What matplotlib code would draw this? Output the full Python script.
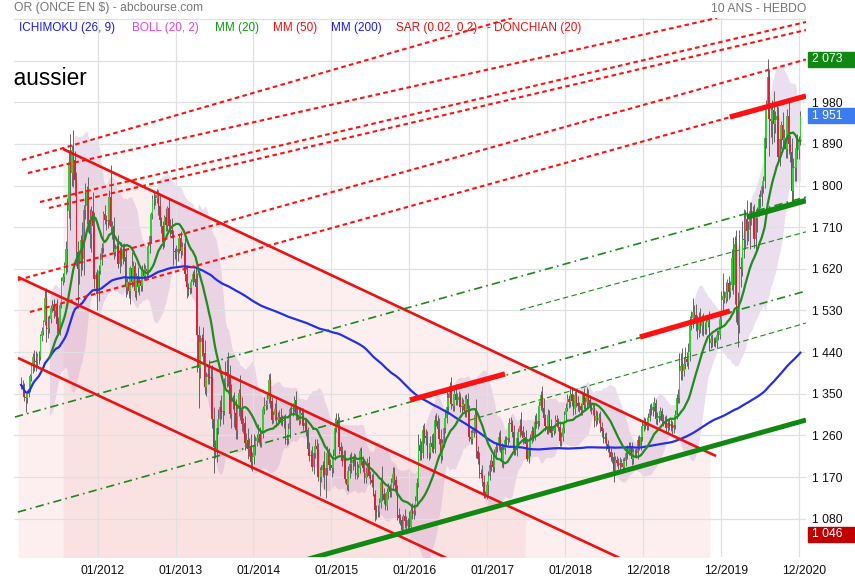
import numpy as np
import pandas as pd
import matplotlib
matplotlib.use('Agg')
import matplotlib.pyplot as plt
from matplotlib.patches import Rectangle
import matplotlib.transforms as mtransforms

plt.rcParams['font.family'] = ['Liberation Sans', 'DejaVu Sans']

# ---------------- weekly gold closes (USD) ----------------
c2011 = [1369, 1361, 1343, 1340, 1350, 1361, 1388, 1409, 1429, 1420, 1419, 1429,
         1430, 1474, 1486, 1504, 1556, 1491, 1493, 1511, 1536, 1542, 1529, 1539, 1501,
         1486, 1542, 1594, 1602, 1628, 1663, 1744, 1852, 1828, 1876, 1856, 1813, 1656, 1620,
         1635, 1682, 1642, 1747, 1756, 1788, 1725, 1696, 1746, 1712, 1598, 1606, 1565]
c2012 = [1616, 1640, 1665, 1738, 1725, 1723, 1725, 1775, 1710, 1713, 1656, 1662, 1669,
         1631, 1659, 1642, 1663, 1645, 1580, 1592, 1573, 1621, 1591, 1627, 1572, 1604,
         1581, 1592, 1582, 1618, 1605, 1620, 1616, 1670, 1691, 1738, 1770, 1772, 1773,
         1780, 1756, 1725, 1713, 1678, 1731, 1714, 1751, 1713, 1705, 1696, 1658, 1657]
c2013 = [1656, 1662, 1687, 1658, 1667, 1667, 1609, 1581, 1576, 1578, 1592, 1608, 1598,
         1580, 1477, 1405, 1462, 1470, 1437, 1365, 1387, 1392, 1383, 1387, 1296, 1234,
         1223, 1277, 1296, 1322, 1310, 1313, 1373, 1396, 1395, 1387, 1307, 1332, 1338,
         1309, 1272, 1316, 1351, 1314, 1285, 1287, 1243, 1250, 1230, 1234, 1203, 1213]
c2014 = [1237, 1248, 1254, 1264, 1244, 1262, 1318, 1324, 1326, 1339, 1379, 1334, 1294,
         1303, 1318, 1293, 1300, 1299, 1290, 1293, 1292, 1250, 1252, 1274, 1316, 1316,
         1320, 1337, 1309, 1303, 1294, 1309, 1304, 1280, 1287, 1268, 1230, 1216, 1218,
         1192, 1222, 1238, 1231, 1171, 1169, 1186, 1197, 1175, 1190, 1222, 1195, 1195]
c2015 = [1189, 1216, 1277, 1293, 1279, 1234, 1227, 1204, 1213, 1165, 1152, 1183, 1199,
         1201, 1206, 1204, 1175, 1179, 1189, 1226, 1205, 1190, 1168, 1179, 1201, 1173,
         1164, 1158, 1133, 1099, 1094, 1094, 1113, 1159, 1134, 1121, 1108, 1137, 1145,
         1137, 1156, 1177, 1163, 1142, 1088, 1081, 1076, 1056, 1086, 1075, 1065, 1076]
c2016 = [1061, 1098, 1089, 1097, 1118, 1158, 1239, 1227, 1222, 1271, 1259, 1255, 1221,
         1221, 1243, 1235, 1231, 1293, 1290, 1273, 1253, 1216, 1243, 1275, 1298, 1322,
         1340, 1366, 1328, 1323, 1350, 1336, 1336, 1342, 1321, 1324, 1328, 1310, 1339, 1316,
         1257, 1252, 1266, 1275, 1304, 1226, 1208, 1178, 1177, 1160, 1134, 1132, 1152]
c2017 = [1173, 1197, 1205, 1191, 1220, 1234, 1236, 1257, 1234, 1202, 1229, 1249, 1249,
         1254, 1287, 1284, 1268, 1228, 1228, 1254, 1267, 1280, 1270, 1254, 1256, 1242,
         1210, 1228, 1254, 1269, 1258, 1288, 1285, 1291, 1324, 1347, 1320, 1297, 1280,
         1274, 1304, 1280, 1266, 1269, 1275, 1293, 1288, 1279, 1248, 1257, 1276, 1303]
c2018 = [1320, 1338, 1332, 1350, 1334, 1316, 1347, 1330, 1323, 1323, 1314, 1347, 1325,
         1332, 1345, 1336, 1323, 1314, 1320, 1291, 1302, 1294, 1298, 1278, 1269, 1253,
         1256, 1241, 1231, 1223, 1214, 1213, 1184, 1206, 1201, 1197, 1201, 1201, 1192,
         1204, 1222, 1227, 1235, 1233, 1209, 1223, 1223, 1222, 1249, 1238, 1256, 1280]
c2019 = [1285, 1288, 1281, 1298, 1317, 1314, 1322, 1329, 1295, 1298, 1302, 1312, 1292,
         1291, 1291, 1276, 1286, 1280, 1284, 1276, 1283, 1305, 1340, 1341, 1399, 1409,
         1399, 1415, 1426, 1419, 1440, 1497, 1513, 1526, 1520, 1506, 1488, 1506, 1497,
         1505, 1489, 1490, 1505, 1509, 1459, 1468, 1463, 1463, 1460, 1476, 1478, 1511]
c2020 = [1552, 1562, 1557, 1571, 1589, 1570, 1584, 1643, 1585, 1674, 1530, 1498, 1625,
         1620, 1684, 1683, 1728, 1701, 1703, 1744, 1735, 1730, 1685, 1730, 1744, 1771,
         1775, 1799, 1810, 1902, 1975, 2035, 1944, 1940, 1964, 1934, 1941, 1950, 1862,
         1900, 1930, 1899, 1902, 1879, 1951, 1889, 1872, 1788, 1839, 1839, 1881, 1877]
c2021 = [1898, 1951]
first_open = 1372

# upper / lower wick lengths beyond the candle body
u2011 = [15, 10, 12, 8, 8, 12, 5, 6, 10, 16, 22, 8, 12, 6, 8, 6, 18, 22, 24, 10, 6, 10, 12, 6, 16,
         14, 4, 8, 8, 6, 18, 30, 25, 60, 12, 44, 18, 17, 25, 18, 12, 40, 10, 50, 12, 30, 25, 10, 40, 30, 8, 14]
d2011 = [8, 12, 8, 30, 10, 6, 8, 10, 15, 20, 20, 8, 15, 8, 10, 10, 6, 30, 20, 12, 8, 10, 15, 10, 20,
         8, 8, 6, 10, 10, 20, 50, 15, 124, 30, 60, 35, 30, 85, 32, 30, 25, 35, 20, 40, 25, 30, 40, 35, 20, 20, 35]
u2012 = [12, 15, 10, 8, 20, 12, 8, 15, 70, 10, 20, 12, 8, 25, 8, 20, 8, 12, 15, 8, 20, 6, 35, 10, 8, 6,
         20, 12, 8, 10, 15, 8, 12, 5, 10, 5, 10, 15, 8, 12, 10, 25, 8, 10, 6, 20, 5, 20, 15, 25, 8, 6]
d2012 = [15, 8, 12, 10, 8, 20, 15, 10, 12, 25, 15, 8, 10, 10, 20, 15, 12, 8, 20, 15, 15, 30, 10, 8, 12, 20,
         12, 18, 10, 10, 8, 10, 12, 10, 15, 15, 10, 20, 15, 10, 20, 12, 15, 15, 10, 12, 12, 8, 15, 10, 30, 15]
u2013 = [15, 8, 6, 15, 12, 8, 20, 20, 8, 10, 6, 8, 12, 25, 30, 20, 15, 10, 25, 30, 10, 20, 30, 20, 25, 25,
         15, 15, 20, 14, 25, 10, 10, 25, 30, 45, 25, 40, 10, 15, 30, 8, 10, 40, 30, 10, 15, 15, 25, 20, 30, 10]
d2013 = [30, 20, 8, 15, 8, 20, 15, 25, 15, 10, 10, 8, 6, 25, 80, 85, 20, 30, 20, 15, 20, 15, 12, 15, 20, 55,
         12, 20, 15, 15, 15, 25, 10, 15, 30, 20, 10, 30, 15, 30, 20, 20, 15, 20, 15, 20, 15, 10, 20, 15, 15, 20]
u2014 = [25, 10, 8, 20, 15, 8, 5, 20, 10, 15, 13, 15, 10, 10, 12, 20, 10, 15, 20, 12, 12, 15, 10, 12, 5, 15,
         10, 8, 20, 15, 15, 12, 10, 15, 8, 10, 10, 15, 10, 20, 10, 15, 15, 12, 20, 10, 8, 30, 15, 15, 10, 15]
d2014 = [15, 20, 10, 8, 10, 10, 8, 12, 10, 8, 8, 15, 10, 8, 10, 15, 10, 10, 8, 10, 15, 8, 10, 10, 20, 10,
         15, 10, 15, 10, 12, 10, 12, 8, 10, 10, 10, 12, 10, 10, 15, 10, 12, 10, 40, 10, 15, 30, 50, 15, 10, 10]
u2015 = [20, 15, 20, 15, 15, 20, 12, 10, 15, 15, 8, 10, 20, 22, 10, 15, 15, 25, 10, 7, 8, 10, 15, 12, 10, 15,
         10, 12, 20, 10, 10, 15, 12, 10, 35, 12, 15, 10, 12, 10, 12, 14, 15, 10, 10, 15, 10, 10, 5, 15, 10, 6]
d2015 = [20, 10, 10, 10, 25, 15, 10, 10, 10, 8, 10, 12, 15, 20, 15, 10, 10, 10, 10, 10, 8, 10, 10, 10, 10, 5,
         10, 10, 5, 25, 15, 10, 10, 10, 15, 10, 10, 10, 15, 10, 10, 12, 10, 10, 10, 10, 10, 8, 10, 15, 16, 10]
u2016 = [20, 10, 15, 15, 10, 10, 25, 15, 20, 12, 15, 15, 15, 10, 15, 20, 30, 10, 15, 15, 25, 20, 10, 12, 20, 40,
         12, 10, 20, 15, 10, 20, 15, 15, 10, 20, 10, 20, 10, 12, 10, 15, 8, 15, 10, 35, 10, 15, 10, 20, 15, 5, 10]
d2016 = [5, 10, 10, 10, 10, 10, 10, 20, 15, 10, 15, 15, 10, 15, 10, 10, 10, 10, 10, 15, 12, 15, 10, 8, 10, 12,
         15, 10, 10, 10, 10, 10, 10, 10, 10, 10, 10, 10, 10, 10, 10, 10, 10, 10, 10, 15, 10, 10, 10, 10, 10, 8, 10]
u2017 = [10, 10, 15, 15, 10, 12, 8, 10, 15, 10, 12, 10, 9, 20, 10, 12, 10, 15, 10, 12, 10, 15, 30, 10, 11, 15,
         10, 9, 10, 12, 10, 15, 20, 15, 10, 10, 20, 20, 10, 10, 12, 10, 15, 10, 8, 10, 10, 10, 12, 10, 10, 9]
d2017 = [20, 10, 15, 10, 10, 12, 10, 8, 10, 10, 12, 10, 10, 10, 8, 10, 12, 10, 10, 12, 10, 10, 10, 12, 10, 10,
         5, 10, 12, 10, 10, 8, 10, 12, 10, 10, 10, 12, 10, 10, 10, 12, 10, 10, 8, 10, 10, 10, 12, 10, 10, 10]
u2018 = [10, 12, 10, 15, 15, 15, 10, 12, 15, 10, 8, 10, 15, 10, 20, 15, 10, 10, 8, 10, 12, 10, 10, 15, 10, 8,
         10, 12, 10, 8, 10, 10, 12, 10, 10, 10, 12, 8, 10, 10, 10, 12, 10, 10, 12, 10, 8, 10, 10, 12, 10, 10]
d2018 = [10, 8, 12, 10, 10, 12, 10, 8, 10, 12, 10, 10, 8, 10, 12, 10, 10, 8, 10, 12, 10, 10, 8, 10, 12, 10,
         10, 12, 8, 10, 10, 12, 25, 10, 8, 10, 12, 10, 10, 8, 10, 12, 10, 10, 12, 10, 8, 10, 12, 10, 10, 8]
u2019 = [15, 10, 12, 10, 10, 12, 10, 15, 10, 12, 10, 10, 8, 15, 10, 12, 10, 10, 12, 8, 10, 10, 10, 20, 40, 30,
         40, 15, 25, 15, 20, 20, 15, 30, 15, 25, 15, 20, 30, 15, 20, 15, 10, 10, 20, 10, 12, 10, 10, 12, 10, 10]
d2019 = [10, 12, 10, 10, 8, 10, 12, 10, 10, 12, 10, 8, 10, 10, 12, 10, 10, 8, 10, 12, 10, 10, 10, 10, 10, 20,
         20, 10, 12, 10, 15, 20, 10, 20, 15, 20, 20, 15, 15, 20, 15, 10, 10, 10, 15, 10, 12, 10, 10, 12, 10, 10]
u2020 = [20, 50, 10, 20, 10, 15, 10, 20, 46, 18, 30, 40, 78, 20, 40, 65, 20, 40, 20, 20, 20, 20, 30, 20, 10, 10,
         15, 10, 10, 15, 10, 38, 15, 35, 20, 40, 20, 30, 20, 20, 10, 30, 20, 20, 15, 30, 20, 30, 20, 30, 20, 30]
d2020 = [15, 20, 10, 10, 20, 15, 10, 10, 20, 40, 26, 47, 16, 40, 15, 40, 20, 30, 20, 40, 20, 40, 20, 30, 30, 10,
         20, 20, 15, 15, 20, 30, 80, 35, 50, 40, 20, 30, 15, 20, 20, 20, 20, 20, 20, 20, 20, 30, 30, 30, 30, 20]
u2021 = [10, 10]
d2021 = [20, 10]

# ---------------- drawn objects (date as decimal year, price) ----------------
chan1_x = [2011.555, 2019.937]; chan1_y = [1879.0, 1215.4]
chan2_x = [2010.977, 2018.961]; chan2_y = [1602.3, 974.4]
chan3_x = [2010.977, 2016.779]; chan3_y = [1427.3, 971.1]
zoneA_x = [2011.555, 2019.86]
zoneB_x = [2010.977, 2017.486]
gsup_x = [2014.340, 2021.092]; gsup_y = [975.5, 1293.2]
gseg_x = [2020.333, 2021.092]; gseg_y = [1732.0, 1767.7]
dda_x = [2010.938, 2021.092]; dda_y = [1299.7, 1775.3]
ddb_x = [2010.977, 2021.092]; ddb_y = [1094.3, 1572.1]
thin1_x = [2016.779, 2021.092]; thin1_y = [1293.2, 1502.9]
thin2_x = [2017.421, 2021.092]; thin2_y = [1531.0, 1700.0]
rseg_x = [[2016.009, 2017.228], [2018.961, 2020.116], [2020.116, 2021.092]]
rseg_y = [[1336.5, 1392.7], [1472.6, 1528.9], [1948.2, 1993.6]]
rdot_x = [[2011.028, 2017.315], [2011.105, 2019.950], [2011.259, 2021.092],
          [2011.375, 2021.092], [2010.977, 2021.092], [2011.131, 2021.092]]
rdot_y = [[1855.3, 2162.2], [1827.2, 2162.2], [1764.5, 2153.6],
          [1751.5, 2136.3], [1595.8, 2072.7], [1526.6, 1993.6]]

year_ticks = [2012, 2013, 2014, 2015, 2016, 2017, 2018, 2019, 2020, 2021]
year_labels = ['01/2012', '01/2013', '01/2014', '01/2015', '01/2016', '01/2017',
               '01/2018', '12/2018', '12/2019', '12/2020']
price_ticks = [1080, 1170, 1260, 1350, 1440, 1530, 1620, 1710, 1800, 1890, 1980]
grid_prices = [1080, 1170, 1260, 1350, 1440, 1530, 1620, 1710, 1800, 1890, 1980, 2070, 2160]

legend_items = [('ICHIMOKU (26, 9)', '#1a1aee', 19), ('BOLL (20, 2)', '#dd44dd', 131.5),
                ('MM (20)', '#119911', 215), ('MM (50)', '#ee1111', 273),
                ('MM (200)', '#1a1aff', 331), ('SAR (0.02, 0.2)', '#dd1111', 396),
                ('- DONCHIAN (20)', '#ee1111', 487)]

# ---------------- assemble ----------------
closes = np.array(c2011 + c2012 + c2013 + c2014 + c2015 + c2016 + c2017 + c2018 + c2019 + c2020 + c2021, float)
upw = np.array(u2011 + u2012 + u2013 + u2014 + u2015 + u2016 + u2017 + u2018 + u2019 + u2020 + u2021, float)
dnw = np.array(d2011 + d2012 + d2013 + d2014 + d2015 + d2016 + d2017 + d2018 + d2019 + d2020 + d2021, float)
dates = pd.date_range('2011-01-07', periods=len(closes), freq='W-FRI')
x = np.asarray(dates.year + (dates.dayofyear - 1) / 365.25, float)
opens = np.r_[first_open, closes[:-1]]
btop = np.maximum(opens, closes)
bbot = np.minimum(opens, closes)
highs = btop + upw
lows = bbot - dnw

W, H = 855, 580
fig = plt.figure(figsize=(W / 100, H / 100), dpi=100)
AX_L, AX_R, AX_T, AX_B = 14, 806, 18, 557
ax = fig.add_axes([AX_L / W, 1 - AX_B / H, (AX_R - AX_L) / W, (AX_B - AX_T) / H])
XMIN, XMAX = 2010.926, 2021.092
YMIN, YMAX = 997.1, 2162.2
ax.set_xlim(XMIN, XMAX)
ax.set_ylim(YMIN, YMAX)
for s in ax.spines.values():
    s.set_visible(False)

# grid
for yt in grid_prices:
    ax.axhline(yt, color='#e0e0e0', lw=0.9, zorder=2)
for xt in year_ticks:
    ax.axvline(xt, color='#e0e0e0', lw=0.9, zorder=2)


def line_at(xs, lx, ly):
    xs = np.asarray(xs, float)
    return ly[0] + (xs - lx[0]) * (ly[1] - ly[0]) / (lx[1] - lx[0])


# zones
za = np.linspace(zoneA_x[0], zoneA_x[1], 50)
ax.fill_between(za, line_at(za, chan1_x, chan1_y), YMIN - 50, color='#f29a9a', alpha=0.15, lw=0, zorder=1)
zb = np.linspace(zoneB_x[0], zoneB_x[1], 50)
ax.fill_between(zb, line_at(zb, chan2_x, chan2_y), YMIN - 50, color='#f29a9a', alpha=0.15, lw=0, zorder=1)

# Bollinger
cs = pd.Series(closes)
mid = cs.rolling(20).mean()
sd = cs.rolling(20).std(ddof=0)
ax.fill_between(x, mid + 2 * sd, mid - 2 * sd, color='#c59ccd', alpha=0.33, lw=0, zorder=1.5)

# candles
wk = 7 / 365.25
ax.vlines(x, lows, highs, color='#666666', lw=0.7, zorder=3)
cols = np.where(closes >= opens, '#2fcf2f', '#dd2238')
ax.bar(x, np.maximum(btop - bbot, 0.8), bottom=bbot, width=wk * 0.95, color=cols, lw=0, zorder=3.2)

# moving averages
ma20 = cs.rolling(20).mean()
ma200 = cs.rolling(200, min_periods=1).mean()
ax.plot(x, ma200, color='#2230ee', lw=1.6, zorder=4)
ax.plot(x, ma20, color='#1e8c1e', lw=1.6, zorder=4)

# drawn lines
for lx, ly in [(chan1_x, chan1_y), (chan2_x, chan2_y), (chan3_x, chan3_y)]:
    ax.plot(lx, ly, color='#ee1111', lw=1.9, zorder=5, solid_capstyle='butt')
ax.plot(gsup_x, gsup_y, color='#118811', lw=3.6, zorder=5, solid_capstyle='butt')
ax.plot(gseg_x, gseg_y, color='#118811', lw=4.0, zorder=5, solid_capstyle='butt')
ax.plot(dda_x, dda_y, color='#1a8a1a', lw=1.2, ls=(0, (5, 2.5, 1, 2.5)), zorder=5)
ax.plot(ddb_x, ddb_y, color='#1a8a1a', lw=1.2, ls=(0, (5, 2.5, 1, 2.5)), zorder=5)
ax.plot(thin1_x, thin1_y, color='#1a8a1a', lw=0.8, ls=(0, (5, 3)), zorder=5)
ax.plot(thin2_x, thin2_y, color='#1a8a1a', lw=0.8, ls=(0, (5, 3)), zorder=5)
for lx, ly in zip(rseg_x, rseg_y):
    ax.plot(lx, ly, color='#ff1111', lw=3.8, zorder=6, solid_capstyle='butt')
for lx, ly in zip(rdot_x, rdot_y):
    ax.plot(lx, ly, color='#ff1111', lw=1.5, ls=(0, (2.2, 1.6)), zorder=6)

# axes ticks
ax.set_xticks(year_ticks)
ax.set_xticklabels(year_labels, fontsize=8.7, color='#111111')
ax.tick_params(axis='x', length=0, pad=6)
off = mtransforms.ScaledTranslation(5 / 100, 0, fig.dpi_scale_trans)
for lab in ax.get_xticklabels():
    lab.set_transform(lab.get_transform() + off)
ax.yaxis.tick_right()
ax.set_yticks(price_ticks)
ax.set_yticklabels([f'{v:,}'.replace(',', ' ') for v in price_ticks], fontsize=8.7, color='#111111')
ax.tick_params(axis='y', length=0, pad=4.3)


# value boxes
def value_box(val, color):
    ypix = ax.transData.transform((XMIN, val))[1]
    fig.patches.append(Rectangle((808 / W, (ypix - 7.5) / H), 47 / W, 15 / H,
                                 transform=fig.transFigure, color=color, zorder=5))
    fig.text(812 / W, ypix / H, f'{int(round(val)):,}'.replace(',', ' '), color='white',
             fontsize=8.7, va='center', ha='left', zorder=6)


value_box(highs.max(), '#118811')
value_box(closes[-1], '#3d7bf0')
value_box(lows.min(), '#c00000')

# texts
fig.text(14 / W, 1 - 8.5 / H, 'OR (ONCE EN $) - abcbourse.com', color='#777777', fontsize=8.7, va='center')
fig.text(806 / W, 1 - 8.5 / H, '10 ANS - HEBDO', color='#777777', fontsize=8.7, va='center', ha='right')
for txt, col, px in legend_items:
    fig.text(px / W, 1 - 28.5 / H, txt, color=col, fontsize=8.5, va='center')
t = fig.text(87 / W, 1 - 85 / H, 'haussier', color='black', fontsize=16.3, ha='right', va='baseline')
t.set_clip_box(ax.bbox)
t.set_clip_on(True)

fig.savefig('out.png', dpi=100)
